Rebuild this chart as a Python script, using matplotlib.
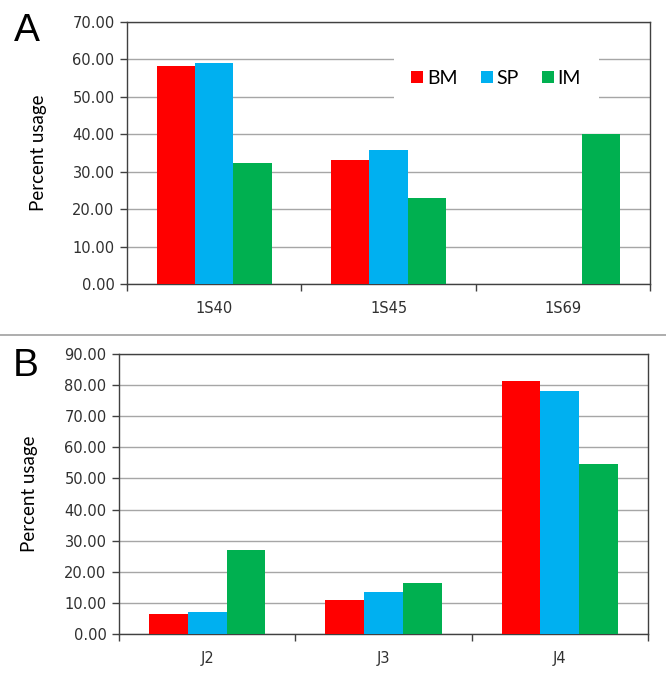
import matplotlib
matplotlib.use("Agg")
import matplotlib.pyplot as plt
import numpy as np
from matplotlib.lines import Line2D

series = ["BM", "SP", "IM"]
colors = ["#FF0000", "#00B0F0", "#00B050"]

cats_a = ["1S40", "1S45", "1S69"]
bm_a = [58.2, 33.1, 0.0]
sp_a = [59.1, 35.7, 0.0]
im_a = [32.4, 22.9, 40.2]

cats_b = ["J2", "J3", "J4"]
bm_b = [6.5, 10.9, 81.2]
sp_b = [7.0, 13.5, 78.1]
im_b = [26.9, 16.3, 54.6]

W, H = 666, 683
fig = plt.figure(figsize=(W / 100, H / 100), dpi=100)


def px_axes(l, t, r, b):
    return fig.add_axes([l / W, 1 - b / H, (r - l) / W, (b - t) / H])


def draw(ax, cats, vals, ymax, ystep, label_x):
    x = np.arange(len(cats))
    bw = 0.22
    for i, (v, c) in enumerate(zip(vals, colors)):
        ax.bar(x + (i - 1) * bw, v, bw, color=c, label=series[i], zorder=3)
    ax.set_xlim(-0.5, len(cats) - 0.5)
    ax.set_ylim(0, ymax)
    yt = np.arange(0, ymax + 0.1, ystep)
    ax.set_yticks(yt)
    ax.set_yticklabels([f"{v:.2f}" for v in yt], fontsize=10.5, color="#303030")
    ax.yaxis.grid(True, color="#a6a6a6", lw=1, zorder=0)
    ax.set_axisbelow(True)
    ax.set_xticks(np.arange(-0.5, len(cats), 1.0))
    ax.set_xticklabels([])
    ax.set_xticks(x, minor=True)
    ax.set_xticklabels(cats, minor=True, fontsize=10.5, color="#303030")
    ax.tick_params(axis="x", which="minor", length=0, pad=12)
    ax.tick_params(axis="x", which="major", length=5, width=1, color="#404040", direction="out")
    ax.tick_params(axis="y", length=5, width=1, color="#404040", direction="out", pad=4)
    for s in ax.spines.values():
        s.set_color("#404040")
        s.set_linewidth(1)
    ax.set_ylabel("Percent usage", family="Lato", fontsize=13.5)
    ax.yaxis.set_label_coords(label_x, 0.5)


axA = px_axes(127, 22, 650, 284)
draw(axA, cats_a, [bm_a, sp_a, im_a], 70, 10, -0.153)
leg = axA.legend(loc="center", bbox_to_anchor=(0.706, 0.786), ncol=3, frameon=True,
                 facecolor="white", edgecolor="none", framealpha=1, fancybox=False,
                 handlelength=0.6, handleheight=0.6, handletextpad=0.2,
                 columnspacing=1.2, borderpad=0.9,
                 prop={"family": "Lato", "size": 14})
leg.set_zorder(5)

axB = px_axes(119, 354, 648, 634)
draw(axB, cats_b, [bm_b, sp_b, im_b], 90, 10, -0.1535)

fig.add_artist(Line2D([0, 1], [1 - 335 / H, 1 - 335 / H], transform=fig.transFigure,
                      color="#a0a0a0", lw=1.2))
fig.text(14 / W, 1 - 31 / H, "A", fontsize=28, va="center", ha="left", family="Liberation Sans")
fig.text(13 / W, 1 - 366 / H, "B", fontsize=28, va="center", ha="left", family="Liberation Sans")

fig.savefig("out.png", dpi=100)
